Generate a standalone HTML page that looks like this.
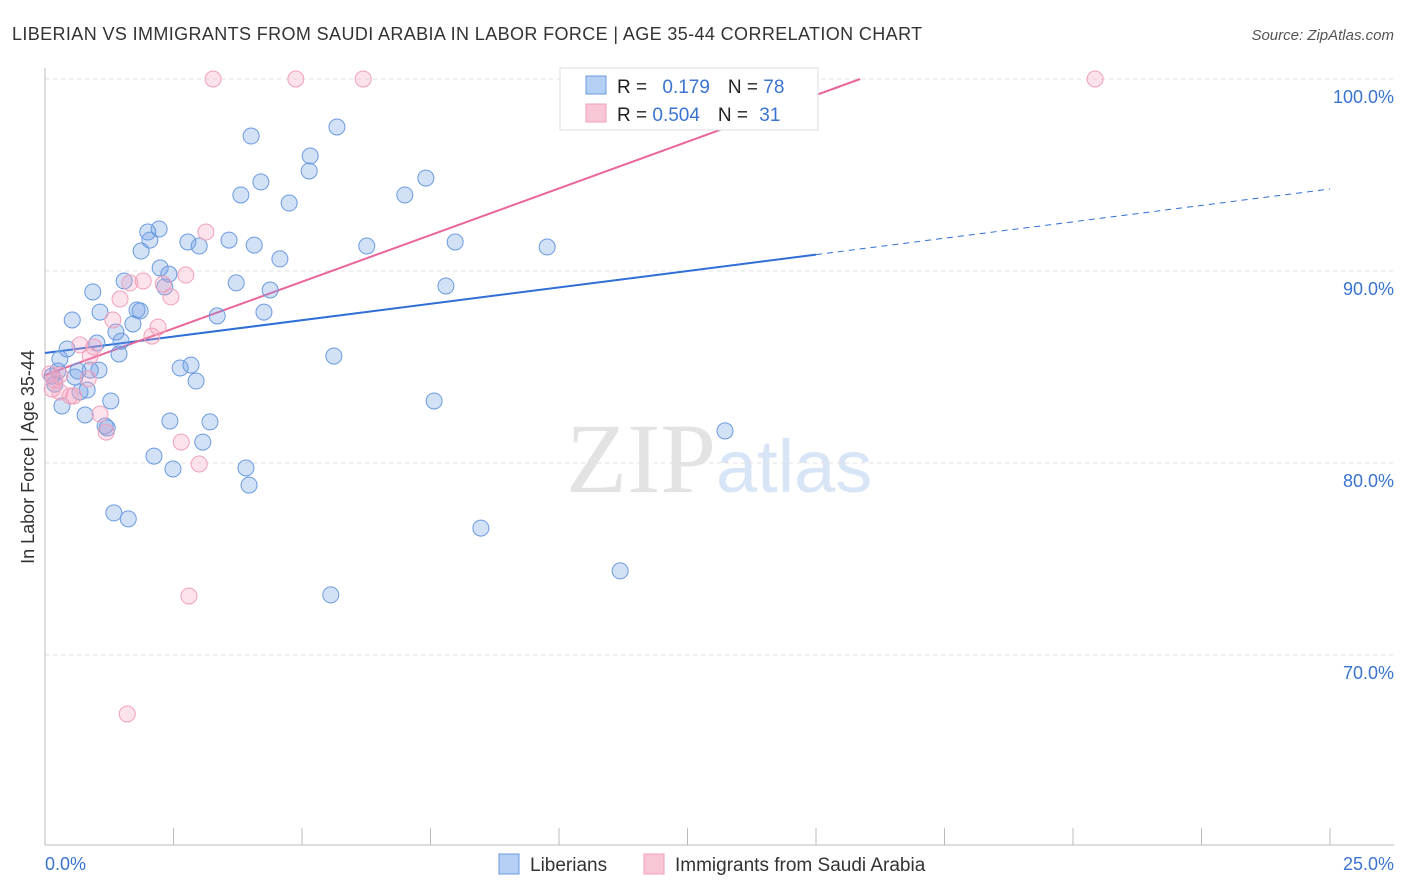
<!DOCTYPE html>
<html><head><meta charset="utf-8"><style>
body{margin:0;background:#fff;font-family:"Liberation Sans",sans-serif;}
svg{display:block}
</style></head><body>
<svg id="chart" width="1406" height="892">
<text x="12" y="40" font-size="18" fill="#333" letter-spacing="0.38">LIBERIAN VS IMMIGRANTS FROM SAUDI ARABIA IN LABOR FORCE | AGE 35-44 CORRELATION CHART</text>
<text x="1394" y="40" font-size="15" fill="#555" font-style="italic" text-anchor="end">Source: ZipAtlas.com</text>
<text x="716" y="492" font-size="100" fill="#e3e3e3" text-anchor="end" font-family="Liberation Serif">ZIP</text>
<text x="716" y="492" font-size="74" fill="#d8e5f6">atlas</text>
<g id="grid"></g><g id="axes"></g><g id="lines"></g><g id="pts"></g>
<text transform="translate(34,457) rotate(-90)" font-size="18" fill="#333" text-anchor="middle">In Labor Force | Age 35-44</text>
<text x="45" y="870" font-size="18" fill="#3a74d0">0.0%</text>
<text x="1394" y="870" font-size="18" fill="#3a74d0" text-anchor="end">25.0%</text>
<g>
<rect x="560" y="68" width="258" height="62" fill="#fff" stroke="#ddd"/>
<rect x="586" y="76" width="20" height="18" fill="#b5cff5" stroke="#6a9be0"/>
<rect x="586" y="104" width="20" height="18" fill="#f8c6d5" stroke="#f0a0bb"/>
<text x="617" y="93" font-size="19" fill="#222">R = <tspan fill="#3a74d0" dx="10">0.179</tspan><tspan dx="18" fill="#222">N = </tspan><tspan fill="#3a74d0">78</tspan></text>
<text x="617" y="121" font-size="19" fill="#222">R = <tspan fill="#3a74d0">0.504</tspan><tspan dx="18" fill="#222">N = </tspan><tspan fill="#3a74d0" dx="6">31</tspan></text>
</g>
<g>
<rect x="499" y="854" width="20" height="20" fill="#b5cff5" stroke="#6a9be0"/>
<text x="530" y="871" font-size="19" fill="#333">Liberians</text>
<rect x="644" y="854" width="20" height="20" fill="#f8c6d5" stroke="#f0a0bb"/>
<text x="675" y="871" font-size="19" fill="#333">Immigrants from Saudi Arabia</text>
</g>
</svg>
<script>
const yTicks=[100,90,80,70];
const xTicks=[0,2.5,5,7.5,10,12.5,15,17.5,20,22.5,25];
const blueX=[0.14,0.19,0.25,0.33,0.29,0.43,0.53,0.58,0.64,0.68,0.78,0.82,0.88,0.93,1.01,1.07,1.05,1.17,1.21,1.28,1.34,1.38,1.44,1.48,1.54,1.62,1.71,1.79,1.85,1.87,2.0,2.04,2.12,2.22,2.24,2.33,2.41,2.43,2.49,2.63,2.78,2.84,2.94,3.0,3.07,3.21,3.35,3.58,3.72,3.81,3.91,3.97,4.01,4.07,4.2,4.26,4.38,4.57,4.75,5.14,5.16,5.56,5.62,5.68,6.26,7.0,7.41,7.57,7.8,7.98,8.48,9.77,11.19,13.23];
const blueY=[84.53,84.11,84.79,82.97,85.42,85.94,87.45,84.48,84.79,83.7,82.5,83.8,84.84,88.91,86.25,87.86,84.84,81.93,81.82,83.23,77.4,86.82,85.68,86.35,89.48,77.09,87.24,87.97,87.92,91.04,92.03,91.61,80.36,92.19,90.16,89.17,89.84,82.19,79.69,84.95,91.51,85.1,84.27,91.3,81.09,82.14,87.66,91.61,89.38,93.96,79.74,78.85,97.03,91.35,94.64,87.86,89.01,90.63,93.54,95.21,95.99,73.13,85.57,97.5,91.3,93.96,94.84,83.23,89.22,91.51,76.61,91.25,74.38,81.67];
const pinkX=[3.27,4.88,6.19,20.43,0.1,0.14,0.19,0.29,0.49,0.56,0.68,0.88,0.95,1.07,1.19,1.32,1.46,1.65,1.91,2.08,2.2,2.3,2.45,2.74,3.13,2.65,3.0,2.8,1.6,0.29,0.84];
const pinkY=[100,100,100,100,84.64,83.85,84.32,84.58,83.49,83.49,86.15,85.57,86.04,82.55,81.61,87.45,88.54,89.38,89.48,86.61,87.08,89.32,88.65,89.79,92.03,81.09,79.95,73.07,66.93,83.7,84.38];
const X=v=>45+v*51.4, Y=v=>79+(100-v)*19.2;
const NS='http://www.w3.org/2000/svg';
function mk(t,a,p){const e=document.createElementNS(NS,t);for(const k in a)e.setAttribute(k,a[k]);document.getElementById(p).appendChild(e);return e;}
yTicks.forEach(v=>{
 const l=mk('line',{x1:45,x2:1394,y1:Y(v),y2:Y(v),stroke:'#e2e2e2','stroke-dasharray':'4,4'},'grid');
 
 
 const t=mk('text',{x:1394,y:Y(v)+24,'font-size':18,fill:'#3a74d0','text-anchor':'end'},'grid');
 t.textContent=v.toFixed(1)+'%';
 
 
});
const ax=mk('line',{x1:45,x2:45,y1:68,y2:845,stroke:'#bbb'},'axes');


const bx=mk('line',{x1:45,x2:1394,y1:845,y2:845,stroke:'#bbb'},'axes');


xTicks.forEach(v=>{
 const t=mk('line',{x1:X(v),x2:X(v),y1:828,y2:845,stroke:'#bbb'},'axes');
 
 
});
const bA=85.73,bB=(94.27-85.73)/25, pA=84.58,pB=(100-84.58)/15.86;
let e=mk('line',{x1:X(0),y1:Y(bA),x2:X(15),y2:Y(bA+bB*15),stroke:'#2f6fd6','stroke-width':2},'lines');


e=mk('line',{x1:X(15),y1:Y(bA+bB*15),x2:X(25),y2:Y(bA+bB*25),stroke:'#2f6fd6','stroke-width':1,'stroke-dasharray':'6,5'},'lines');


e=mk('line',{x1:X(0),y1:Y(pA),x2:X(15.86),y2:Y(100),stroke:'#e8669a','stroke-width':2},'lines');


blueX.forEach((v,i)=>{
 const c=mk('circle',{cx:X(v),cy:Y(blueY[i]),r:8,fill:'rgba(110,155,230,0.3)',stroke:'#6a9be0','stroke-width':1},'pts');
 
 
});
pinkX.forEach((v,i)=>{
 const c=mk('circle',{cx:X(v),cy:Y(pinkY[i]),r:8,fill:'rgba(245,160,190,0.3)',stroke:'#f0a0bb','stroke-width':1},'pts');
 
 
});
</script>
</body></html>
